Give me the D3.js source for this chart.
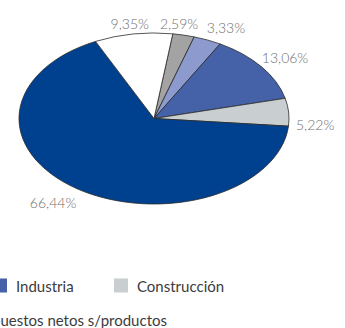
<!DOCTYPE html>
<html>
<head>
<meta charset="utf-8">
<script src="https://cdn.jsdelivr.net/npm/d3@7"></script>
<style>
  html, body { margin: 0; padding: 0; background: #fff; overflow: hidden; }
  svg { display: block; }
  text { font-family: Lato, "Open Sans", sans-serif; }
</style>
</head>
<body>
<svg id="chart" width="345" height="328"></svg>
<script>
// Share of gross value added by sector (%), clockwise from the top
const categories = ["Agricultura y pesca", "Energía", "Industria", "Construcción", "Servicios", "Impuestos netos s/productos"];
const shares = [2.59, 3.33, 13.06, 5.22, 66.44, 9.35];
const shareLabels = ["2,59%", "3,33%", "13,06%", "5,22%", "66,44%", "9,35%"];
const legendItems = ["Industria", "Construcción", "Impuestos netos s/productos"];

// Slice colours
const palette = ["#a3a3a3", "#8c9acd", "#4561a8", "#c9ced1", "#00418f", "#ffffff"];

const svg = d3.select("#chart");
const cx = 154, cy = 118.5, rx = 135, ry = 85.5;
const start = 8 * Math.PI / 180;

const color = d3.scaleOrdinal().domain(categories).range(palette);

const pie = d3.pie().sort(null).value(d => d.v)
  .startAngle(start).endAngle(start + 2 * Math.PI);
const data = categories.map((c, i) => ({ c, v: shares[i], label: shareLabels[i] }));
const arcs = pie(data);

const arc = d3.arc().innerRadius(0).outerRadius(rx);

// Flattened (elliptical) pie
const g = svg.append("g")
  .attr("transform", `translate(${cx},${cy}) scale(1,${ry / rx})`);
g.selectAll("path").data(arcs).join("path")
  .attr("d", arc)
  .attr("fill", d => color(d.data.c))
  .attr("stroke", "#2a2a2a")
  .attr("stroke-width", 0.8)
  .attr("vector-effect", "non-scaling-stroke")
  .attr("stroke-linejoin", "round");

// Percentage labels: offset outward from the rim point at each slice's mid angle
const labelNudge = [[-4.5, -12], [18.5, -12], [23.5, -9.5], [26.5, 12], [-24, 14], [-3.5, -11]];
const rimPoint = d => {
  const a = (d.startAngle + d.endAngle) / 2;
  return [cx + rx * Math.sin(a), cy - ry * Math.cos(a)];
};
svg.append("g").selectAll("text").data(arcs).join("text")
  .attr("x", (d, i) => rimPoint(d)[0] + labelNudge[i][0])
  .attr("y", (d, i) => rimPoint(d)[1] + labelNudge[i][1])
  .attr("text-anchor", "middle")
  .attr("dominant-baseline", "central")
  .attr("font-size", 14)
  .attr("font-weight", 300)
  .attr("fill", "#707070")
  .text(d => d.data.label);

// Legend
const legend = svg.append("g").attr("font-size", 15).attr("fill", "#3c3c3c");
const rows = [
  { name: legendItems[0], x: -7, y: 285.5 },
  { name: legendItems[1], x: 114, y: 285.5 },
  { name: legendItems[2], x: null, y: 320 }
];
rows.forEach(r => {
  const item = legend.append("g");
  const text = item.append("text")
    .attr("y", r.y)
    .attr("dominant-baseline", "central")
    .text(r.name);
  let sx = r.x;
  if (sx === null) {
    // right edge of the last entry sits at x = 167
    const w = text.node().getComputedTextLength();
    sx = 167 - w - 23;
  }
  text.attr("x", sx + 23);
  item.append("rect")
    .attr("x", sx).attr("y", r.y - 7).attr("width", 14).attr("height", 14)
    .attr("fill", color(r.name))
    .attr("stroke", r.name === legendItems[2] ? "#999" : "none");
});
</script>
</body>
</html>
